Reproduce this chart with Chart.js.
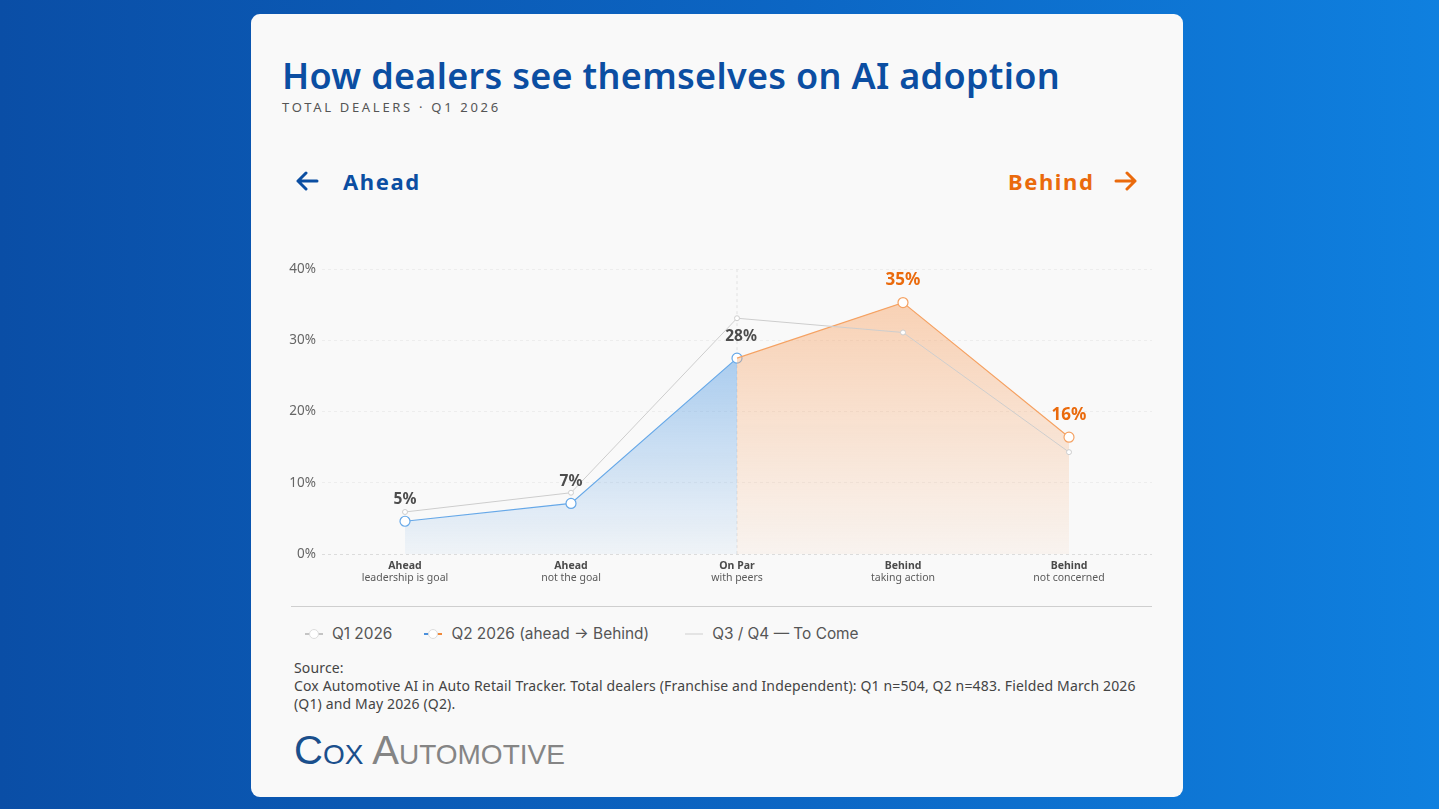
<!DOCTYPE html>
<html>
<head>
<meta charset="utf-8">
<script src="https://cdn.jsdelivr.net/npm/chart.js@4.4.1/dist/chart.umd.min.js"></script>
<style>
  html, body { margin: 0; padding: 0; }
  body {
    width: 1439px; height: 809px; overflow: hidden; position: relative;
    background: linear-gradient(90deg, #0a4ea6 0%, #0c66c4 55%, #0f80df 100%);
    font-family: "Noto Sans", "Open Sans", sans-serif;
  }
  .card {
    position: absolute; left: 251px; top: 14px; width: 932px; height: 783px;
    background: #f9f9f9; border-radius: 9px;
  }
  .title {
    position: absolute; left: 31px; top: 37px; margin: 0;
    font-size: 36px; font-weight: 600; letter-spacing: 0.3px; color: #0b4ea2; white-space: nowrap;
  }
  .subtitle {
    position: absolute; left: 31px; top: 84px;
    font-size: 13px; letter-spacing: 2.7px; color: #555; white-space: nowrap;
  }
  .dir {
    position: absolute; top: 152px; font-size: 22px; font-weight: 700;
    letter-spacing: 1.6px; white-space: nowrap; display: flex; align-items: center;
  }
  .dir.ahead { left: 44px; color: #0b4ea2; }
  .dir.behind { left: 757px; color: #ea6a0c; }
  .dir svg { display: block; }
  .chart-wrap {
    position: absolute; left: 31px; top: 241px; width: 878px; height: 335px;
  }
  .sep {
    position: absolute; left: 40px; width: 861px; top: 592px; height: 1px; background: #cfcfcf;
  }
  .legend {
    position: absolute; left: 54px; top: 610px; display: flex; align-items: center;
    font-family: Inter, "Noto Sans", sans-serif;
    font-size: 15.4px; color: #555; white-space: nowrap;
  }
  .legend .item { display: flex; align-items: center; }
  .legend canvas { margin-right: 9px; }
  .source {
    position: absolute; left: 43px; top: 645px; width: 862px;
    font-size: 14px; letter-spacing: 0.15px; line-height: 18px; color: #444;
  }
  .logo {
    position: absolute; left: 43px; top: 714px; white-space: nowrap;
    font-family: "Liberation Sans", sans-serif; font-variant: small-caps;
    font-size: 40px; font-weight: 400; letter-spacing: 0px;
  }
  .logo .cox { color: #1a4f8c; }
  .logo .auto { color: #858585; }
</style>
</head>
<body>
<div class="card">
  <h1 class="title">How dealers see themselves on AI adoption</h1>
  <div class="subtitle">TOTAL DEALERS · Q1 2026</div>
  <div class="dir ahead">
    <svg width="24" height="20" viewBox="0 0 24 20"><path d="M22 10 H3 M11 2 L3 10 L11 18" fill="none" stroke="#0b4ea2" stroke-width="3" stroke-linecap="round" stroke-linejoin="round"/></svg>
    <span style="margin-left:24px">Ahead</span>
  </div>
  <div class="dir behind">
    <span style="margin-right:20px">Behind</span>
    <svg width="24" height="20" viewBox="0 0 24 20"><path d="M2 10 H21 M13 2 L21 10 L13 18" fill="none" stroke="#ea6a0c" stroke-width="3" stroke-linecap="round" stroke-linejoin="round"/></svg>
  </div>
  <div class="chart-wrap"><canvas id="chart"></canvas></div>
  <div class="sep"></div>
  <div class="legend">
    <div class="item" style="margin-right:32px"><canvas id="lg1" width="18" height="12"></canvas>Q1 2026</div>
    <div class="item" style="margin-right:36px"><canvas id="lg2" width="18" height="12"></canvas>Q2 2026 (ahead → Behind)</div>
    <div class="item"><canvas id="lg3" width="18" height="12"></canvas>Q3 / Q4 — To Come</div>
  </div>
  <div class="source">Source:<br>Cox Automotive AI in Auto Retail Tracker. Total dealers (Franchise and Independent): Q1 n=504, Q2 n=483. Fielded March 2026 (Q1) and May 2026 (Q2).</div>
  <div class="logo"><span class="cox">Cox</span> <span class="auto">Automotive</span></div>
</div>

<script>
// categories: [bold line, sub line]
const categories = [
  ['Ahead', 'leadership is goal'],
  ['Ahead', 'not the goal'],
  ['On Par', 'with peers'],
  ['Behind', 'taking action'],
  ['Behind', 'not concerned']
];
const q1Values = [5.9, 8.6, 33.1, 31.1, 14.3];
const q2Values = [4.6, 7.1, 27.5, 35.3, 16.4];
const yTicks = [0, 10, 20, 30, 40];
const pivotIndex = 2; // On Par: where the Q2 line turns from blue to orange

const BLUE = '#66a8e8';
const ORANGE = '#f5a263';
const LABEL_ORANGE = '#ea6a0c';

// Q2 split in two pieces so each side gets its own colour and fill
const q2Ahead = q2Values.map((v, i) => (i <= pivotIndex ? v : null));
const q2Behind = q2Values.map((v, i) => (i >= pivotIndex ? v : null));

function vGradient(ctx, top, bottom) {
  const { chart } = ctx;
  const area = chart.chartArea;
  if (!area) return top;
  const g = chart.ctx.createLinearGradient(0, area.top, 0, area.bottom);
  g.addColorStop(0, top);
  g.addColorStop(1, bottom);
  return g;
}

// dashed vertical at the pivot category, drawn behind the data
const pivotLine = {
  id: 'pivotLine',
  beforeDatasetsDraw(chart) {
    const { ctx, chartArea, scales } = chart;
    const x = scales.x.getPixelForValue(pivotIndex);
    ctx.save();
    ctx.strokeStyle = '#e2e2e2';
    ctx.lineWidth = 1;
    ctx.setLineDash([3, 3]);
    ctx.beginPath();
    ctx.moveTo(x, chartArea.top);
    ctx.lineTo(x, chartArea.bottom);
    ctx.stroke();
    ctx.restore();
  }
};

// two-line category labels and the value labels above Q2 points
const labelsPlugin = {
  id: 'labelsPlugin',
  afterDraw(chart) {
    const { ctx, scales } = chart;
    const y0 = scales.y.getPixelForValue(0);
    ctx.save();
    ctx.textAlign = 'center';
    ctx.textBaseline = 'middle';
    categories.forEach((c, i) => {
      const x = scales.x.getPixelForValue(i);
      ctx.fillStyle = '#4a4a4a';
      ctx.font = '700 10.5px "Noto Sans", sans-serif';
      ctx.fillText(c[0], x, y0 + 12);
      ctx.fillStyle = '#5a5a5a';
      ctx.font = '400 10.5px "Noto Sans", sans-serif';
      ctx.fillText(c[1], x, y0 + 24);
    });
    q2Values.forEach((v, i) => {
      const x = scales.x.getPixelForValue(i);
      const y = scales.y.getPixelForValue(v);
      const behind = i > pivotIndex;
      ctx.fillStyle = behind ? LABEL_ORANGE : '#4d4d4d';
      ctx.font = (behind ? '700 17px' : '700 15.5px') + ' "Noto Sans", sans-serif';
      ctx.fillText(Math.round(v) + '%', x + (i === pivotIndex ? 4 : 0), y - 22);
    });
    ctx.restore();
  }
};

new Chart(document.getElementById('chart'), {
  type: 'line',
  data: {
    labels: categories.map(c => c.join(' ')),
    datasets: [
      {
        label: 'Q1 2026',
        data: q1Values,
        borderColor: '#cdcdcd',
        borderWidth: 1,
        pointRadius: 2.5,
        pointBackgroundColor: '#ffffff',
        pointBorderColor: '#cdcdcd',
        pointBorderWidth: 1,
        fill: false,
        tension: 0
      },
      {
        label: 'Q2 2026 behind',
        data: q2Behind,
        borderColor: ORANGE,
        borderWidth: 1.2,
        pointRadius: q2Behind.map((v, i) => (i > pivotIndex ? 5 : 0)),
        pointBackgroundColor: '#ffffff',
        pointBorderColor: ORANGE,
        pointBorderWidth: 1.2,
        fill: 'origin',
        backgroundColor: ctx => vGradient(ctx, 'rgba(247,168,110,0.55)', 'rgba(247,168,110,0.07)'),
        spanGaps: false,
        tension: 0
      },
      {
        label: 'Q2 2026 ahead',
        data: q2Ahead,
        borderColor: BLUE,
        borderWidth: 1.2,
        pointRadius: 5,
        pointBackgroundColor: '#ffffff',
        pointBorderColor: BLUE,
        pointBorderWidth: 1.2,
        fill: 'origin',
        backgroundColor: ctx => vGradient(ctx, 'rgba(92,160,228,0.7)', 'rgba(92,160,228,0.06)'),
        spanGaps: false,
        tension: 0
      }
    ]
  },
  options: {
    responsive: true,
    maintainAspectRatio: false,
    animation: false,
    layout: { padding: { top: 14, right: 8, left: 0, bottom: 0 } },
    plugins: {
      legend: { display: false },
      tooltip: { enabled: false }
    },
    scales: {
      x: {
        offset: true,
        grid: { display: false, drawTicks: false },
        border: { display: false },
        ticks: { display: false },
        afterFit(scale) { scale.height = 36; }
      },
      y: {
        min: 0,
        max: 40,
        afterBuildTicks(scale) { scale.ticks = yTicks.map(v => ({ value: v })); },
        grid: {
          drawTicks: false,
          color: ctx => (ctx.tick.value === 0 ? '#dcdcdc' : '#ededed')
        },
        border: { display: false, dash: [3, 3] },
        ticks: {
          padding: 6,
          color: '#666',
          font: { size: 13.5, family: '"Noto Sans", sans-serif' },
          callback: v => v + '%'
        },
        afterFit(scale) { scale.width = 40; }
      }
    }
  },
  plugins: [pivotLine, labelsPlugin]
});

// small legend markers: line with a hollow point
function marker(id, left, right, withPoint) {
  const c = document.getElementById(id).getContext('2d');
  c.lineWidth = 2;
  c.strokeStyle = left;
  c.beginPath(); c.moveTo(0, 6); c.lineTo(9, 6); c.stroke();
  c.strokeStyle = right;
  c.beginPath(); c.moveTo(9, 6); c.lineTo(18, 6); c.stroke();
  if (withPoint) {
    c.lineWidth = 1;
    c.fillStyle = '#fff';
    c.beginPath(); c.arc(9, 6, 4.5, 0, Math.PI * 2); c.fill();
    c.strokeStyle = '#dcdcdc'; c.stroke();
  }
}
marker('lg1', '#c4c4c4', '#c4c4c4', true);
marker('lg2', '#4a90dc', '#f0893a', true);
(function () {
  const c = document.getElementById('lg3').getContext('2d');
  c.lineWidth = 1; c.strokeStyle = '#cfcfcf';
  c.beginPath(); c.moveTo(0, 6); c.lineTo(18, 6); c.stroke();
})();
</script>
</body>
</html>
